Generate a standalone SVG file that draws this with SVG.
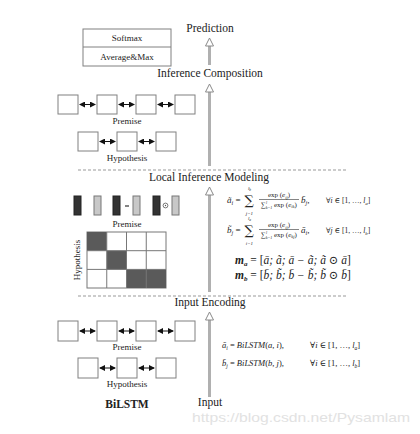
<svg xmlns="http://www.w3.org/2000/svg" width="420" height="434" viewBox="0 0 420 434">
<defs>
<marker id="ah" viewBox="0 0 6 6" refX="5" refY="3" markerWidth="6" markerHeight="6" markerUnits="userSpaceOnUse" orient="auto-start-reverse">
<path d="M0,0 L6,3 L0,6 Z" fill="#111"/>
</marker>
</defs>
<style>
text{font-family:"Liberation Serif","DejaVu Serif",serif;fill:#222}
.t{font-size:11.5px;text-anchor:middle}
.s{font-size:9px;text-anchor:middle}
.cell{fill:#fff;stroke:#777;stroke-width:1}
.dk{fill:#5a5a5a}
.box{fill:#fff;stroke:#808080;stroke-width:1}
.dash{stroke:#999;stroke-width:1;stroke-dasharray:3,2;fill:none}
.shaft{fill:#b0b0b0}
.head{fill:#fff;stroke:#8a8a8a;stroke-width:1}
.dbl{stroke:#111;stroke-width:1;marker-start:url(#ah);marker-end:url(#ah)}
.m{font-style:italic}
.f{font-size:7px}
.ff{font-size:5px}
.sig{font-family:"DejaVu Serif",serif;font-size:13px}
.wm{font-family:"Liberation Sans",Arial,sans-serif;font-size:13px;fill:#e2e2e2}
</style>
<rect width="420" height="434" fill="#fff"/>

<g id="labels">
<text class="t" x="210" y="32">Prediction</text>
<text class="t" x="210" y="77">Inference Composition</text>
<text class="t" x="209" y="181">Local Inference Modeling</text>
<text class="t" x="210" y="306">Input Encoding</text>
<text class="t" x="210" y="406">Input</text>
</g>

<g id="dividers">
<line class="dash" x1="78" y1="170" x2="347" y2="170"/>
<line class="dash" x1="78" y1="296" x2="347" y2="296"/>
</g>

<g id="output-box">
<rect class="box" x="83" y="29" width="88" height="37"/>
<line x1="83" y1="47" x2="171" y2="47" stroke="#808080"/>
<text class="s" x="127" y="41">Softmax</text>
<text class="s" x="127" y="60">Average&amp;Max</text>
</g>

<g id="composition-premise">
<rect class="box" x="58" y="95" width="20" height="19"/>
<rect class="box" x="97" y="95" width="20" height="19"/>
<rect class="box" x="136" y="95" width="20" height="19"/>
<rect class="box" x="175" y="95" width="20" height="19"/>
<text class="s" x="127" y="124">Premise</text>
</g>
<g id="composition-hypothesis">
<rect class="box" x="78" y="132" width="20" height="19"/>
<rect class="box" x="117" y="132" width="20" height="19"/>
<rect class="box" x="156" y="132" width="20" height="19"/>
<text class="s" x="127" y="161">Hypothesis</text>
</g>

<g id="local-vectors">
<rect x="74" y="196" width="7" height="19" fill="#333" stroke="#222"/>
<rect x="94" y="196" width="7" height="19" fill="#c8c8c8" stroke="#777"/>
<rect x="113" y="196" width="7" height="19" fill="#333" stroke="#222"/>
<line x1="125" y1="206" x2="129" y2="206" stroke="#333" stroke-width="1.2"/>
<rect x="133" y="196" width="7" height="19" fill="#c8c8c8" stroke="#777"/>
<rect x="153" y="196" width="7" height="19" fill="#333" stroke="#222"/>
<circle cx="165.5" cy="205.5" r="2.4" fill="none" stroke="#555" stroke-width="0.8"/>
<circle cx="165.5" cy="205.5" r="0.7" fill="#555"/>
<rect x="172" y="196" width="7" height="19" fill="#c8c8c8" stroke="#777"/>
<text class="s" x="127" y="227">Premise</text>
</g>

<g id="attention-grid">
<rect class="cell" x="87" y="232" width="79" height="56"/>
<rect class="dk" x="87" y="232" width="19.75" height="18.7"/>
<rect class="dk" x="106.75" y="250.7" width="19.75" height="18.7"/>
<rect class="dk" x="126.5" y="269.4" width="39.5" height="18.6"/>
<g stroke="#777" stroke-width="1">
<line x1="106.75" y1="232" x2="106.75" y2="288"/>
<line x1="126.5" y1="232" x2="126.5" y2="288"/>
<line x1="146.25" y1="232" x2="146.25" y2="288"/>
<line x1="87" y1="250.7" x2="166" y2="250.7"/>
<line x1="87" y1="269.4" x2="166" y2="269.4"/>
</g>
<text class="s" transform="translate(80,260) rotate(-90)">Hypothesis</text>
</g>

<g id="attention-formulas">
<text class="m" font-size="9" x="227" y="203">ã<tspan font-size="6" dy="2">i</tspan><tspan dy="-2" font-style="normal"> =</tspan></text>
<text class="sig" x="244.5" y="205">∑</text>
<text class="m ff" x="249.5" y="190" text-anchor="middle">l<tspan font-size="3.5" dy="1">b</tspan></text>
<text class="m ff" x="249.5" y="214.5" text-anchor="middle">j=1</text>
<line x1="259" y1="199.5" x2="299" y2="199.5" stroke="#333" stroke-width="0.6"/>
<text class="f" x="279" y="197" text-anchor="middle">exp (<tspan font-style="italic">e</tspan><tspan font-size="4.5" font-style="italic" dy="1.5">ij</tspan><tspan dy="-1.5">)</tspan></text>
<text class="f" x="279" y="206.5" text-anchor="middle">∑<tspan class="m" font-size="4" dy="-2.5">l</tspan><tspan class="m" font-size="4" dy="4.5" dx="-1.5">k=1</tspan><tspan dy="-2"> exp (</tspan><tspan font-style="italic">e</tspan><tspan font-size="4.5" font-style="italic" dy="1.5">ik</tspan><tspan dy="-1.5">)</tspan></text>
<text class="m" font-size="9" x="301" y="203">b̄<tspan font-size="6" dy="2">j</tspan><tspan dy="-2" font-style="normal">,</tspan></text>
<text font-size="7.5" x="326" y="203">∀<tspan font-style="italic">i</tspan> ∈ [1, …, <tspan font-style="italic">l</tspan><tspan font-style="italic" font-size="5" dy="1.5">a</tspan><tspan dy="-1.5">]</tspan></text>

<text class="m" font-size="9" x="227" y="233">b̃<tspan font-size="6" dy="2">j</tspan><tspan dy="-2" font-style="normal"> =</tspan></text>
<text class="sig" x="244.5" y="235">∑</text>
<text class="m ff" x="249.5" y="220" text-anchor="middle">l<tspan font-size="3.5" dy="1">a</tspan></text>
<text class="m ff" x="249.5" y="244.5" text-anchor="middle">i=1</text>
<line x1="259" y1="229.5" x2="299" y2="229.5" stroke="#333" stroke-width="0.6"/>
<text class="f" x="279" y="227" text-anchor="middle">exp (<tspan font-style="italic">e</tspan><tspan font-size="4.5" font-style="italic" dy="1.5">ij</tspan><tspan dy="-1.5">)</tspan></text>
<text class="f" x="279" y="236.5" text-anchor="middle">∑<tspan class="m" font-size="4" dy="-2.5">l</tspan><tspan class="m" font-size="4" dy="4.5" dx="-1.5">k=1</tspan><tspan dy="-2"> exp (</tspan><tspan font-style="italic">e</tspan><tspan font-size="4.5" font-style="italic" dy="1.5">kj</tspan><tspan dy="-1.5">)</tspan></text>
<text class="m" font-size="9" x="301" y="233">ā<tspan font-size="6" dy="2">i</tspan><tspan dy="-2" font-style="normal">,</tspan></text>
<text font-size="7.5" x="326" y="233">∀<tspan font-style="italic">j</tspan> ∈ [1, …, <tspan font-style="italic">l</tspan><tspan font-style="italic" font-size="5" dy="1.5">b</tspan><tspan dy="-1.5">]</tspan></text>

<text class="m" font-size="11.5" x="235" y="264" font-weight="bold">m<tspan font-size="7" dy="2">a</tspan><tspan dy="-2" font-weight="normal" font-style="normal"> = [</tspan><tspan font-weight="normal">ā; ã; ā − ã; ã ⊙ ā</tspan><tspan font-weight="normal" font-style="normal">]</tspan></text>
<text class="m" font-size="11.5" x="235" y="279" font-weight="bold">m<tspan font-size="7" dy="2">b</tspan><tspan dy="-2" font-weight="normal" font-style="normal"> = [</tspan><tspan font-weight="normal">b̄; b̃; b̄ − b̃; b̃ ⊙ b̄</tspan><tspan font-weight="normal" font-style="normal">]</tspan></text>
</g>

<g id="encoding-premise">
<rect class="box" x="58" y="321" width="20" height="20"/>
<rect class="box" x="97" y="321" width="20" height="20"/>
<rect class="box" x="136" y="321" width="20" height="20"/>
<rect class="box" x="175" y="321" width="20" height="20"/>
<text class="s" x="127" y="350">Premise</text>
</g>
<g id="encoding-hypothesis">
<rect class="box" x="78" y="358" width="20" height="20"/>
<rect class="box" x="117" y="358" width="20" height="20"/>
<rect class="box" x="156" y="358" width="20" height="20"/>
<text class="s" x="127" y="387">Hypothesis</text>
</g>
<g id="bilstm-label">
<text x="127" y="408" font-size="11.5" font-weight="bold" text-anchor="middle">BiLSTM</text>
</g>

<g id="encoding-formulas">
<text class="m" font-size="8.5" x="222" y="348">ā<tspan font-size="5.5" dy="1.5">i</tspan><tspan dy="-1.5" font-style="normal"> = </tspan>BiLSTM<tspan font-style="normal">(</tspan>a<tspan font-style="normal">, </tspan>i<tspan font-style="normal">),</tspan></text>
<text font-size="8.5" x="310" y="348">∀<tspan font-style="italic">i</tspan> ∈ [1, …, <tspan font-style="italic">l</tspan><tspan font-style="italic" font-size="5.5" dy="1.5">a</tspan><tspan dy="-1.5">]</tspan></text>
<text class="m" font-size="8.5" x="222" y="366">b̄<tspan font-size="5.5" dy="1.5">j</tspan><tspan dy="-1.5" font-style="normal"> = </tspan>BiLSTM<tspan font-style="normal">(</tspan>b<tspan font-style="normal">, </tspan>j<tspan font-style="normal">),</tspan></text>
<text font-size="8.5" x="310" y="366">∀<tspan font-style="italic">i</tspan> ∈ [1, …, <tspan font-style="italic">l</tspan><tspan font-style="italic" font-size="5.5" dy="1.5">b</tspan><tspan dy="-1.5">]</tspan></text>
</g>

<g id="connectors">
<line class="dbl" x1="80" y1="104.5" x2="95" y2="104.5"/>
<line class="dbl" x1="119" y1="104.5" x2="134" y2="104.5"/>
<line class="dbl" x1="158" y1="104.5" x2="173" y2="104.5"/>
<line class="dbl" x1="100" y1="141.5" x2="115" y2="141.5"/>
<line class="dbl" x1="139" y1="141.5" x2="154" y2="141.5"/>
<line class="dbl" x1="80" y1="331" x2="95" y2="331"/>
<line class="dbl" x1="119" y1="331" x2="134" y2="331"/>
<line class="dbl" x1="158" y1="331" x2="173" y2="331"/>
<line class="dbl" x1="100" y1="368" x2="115" y2="368"/>
<line class="dbl" x1="139" y1="368" x2="154" y2="368"/>

<rect class="shaft" x="208" y="46" width="3" height="19"/>
<polygon class="head" points="209.5,38 205.5,46 213.5,46"/>
<rect class="shaft" x="208" y="92" width="3" height="74"/>
<polygon class="head" points="209.5,84 205.5,92 213.5,92"/>
<rect class="shaft" x="208" y="195" width="3" height="97"/>
<polygon class="head" points="209.5,187 205.5,195 213.5,195"/>
<rect class="shaft" x="208" y="320" width="3" height="77"/>
<polygon class="head" points="209.5,312 205.5,320 213.5,320"/>
</g>

<text class="wm" x="192" y="422" textLength="218" lengthAdjust="spacingAndGlyphs">https://blog.csdn.net/Pysamlam</text>
</svg>
